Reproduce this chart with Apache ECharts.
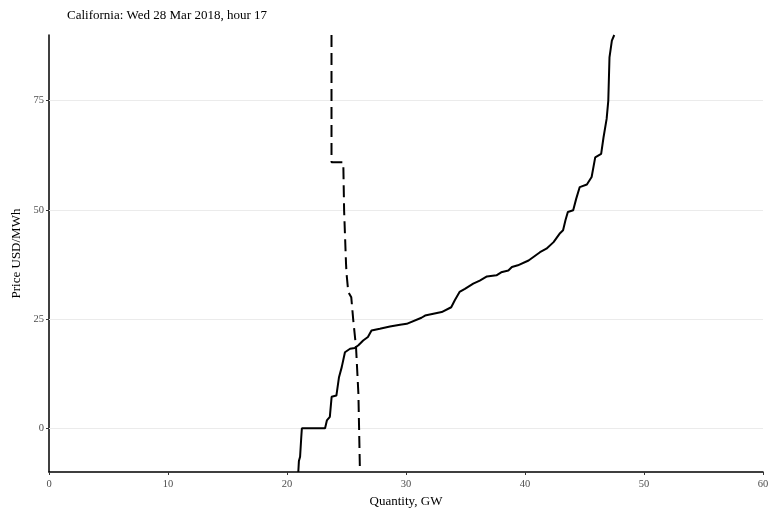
<!DOCTYPE html>
<html>
<head>
<meta charset="utf-8">
<script src="https://cdn.jsdelivr.net/npm/echarts@6/dist/echarts.min.js"></script>
<style>html,body{margin:0;padding:0;background:#fff}#c{width:770px;height:516px}</style>
</head>
<body>
<div id="c"></div>
<script>
// Supply curve (quantity GW, price USD/MWh) - solid step line
const supplyQ = [20.95, 21.0, 21.1, 21.2, 21.25, 23.2, 23.35, 23.6, 23.75, 24.15, 24.37, 24.6, 24.87, 25.3, 25.7, 26.0, 26.4, 26.8, 27.1, 27.8, 28.65, 29.5, 30.06, 31.3, 31.6, 33.0, 33.8, 34.1, 34.5, 34.95, 35.65, 36.2, 36.8, 37.6, 38.0, 38.6, 38.9, 39.4, 40.3, 41.26, 41.8, 42.4, 42.9, 43.2, 43.4, 43.6, 44.05, 44.3, 44.6, 45.2, 45.6, 45.9, 46.4, 46.6, 46.86, 47.0, 47.1, 47.3, 47.5];
const supplyP = [-10, -7.5, -6.5, -2, 0, 0, 1.8, 2.6, 7.2, 7.5, 11.7, 14, 17.4, 18.2, 18.4, 19, 20.1, 20.9, 22.4, 22.8, 23.3, 23.7, 23.9, 25.3, 25.8, 26.6, 27.7, 29.3, 31.2, 31.9, 33.1, 33.8, 34.75, 35, 35.7, 36.1, 36.9, 37.3, 38.4, 40.3, 41.1, 42.6, 44.5, 45.3, 47.6, 49.5, 49.9, 52.5, 55.2, 55.8, 57.5, 62.0, 62.8, 66.6, 70.8, 75, 84.9, 88.7, 90];
// Demand curve - dashed line
const demandQ = [23.74, 23.74, 24.73, 24.8, 24.96, 25.0, 25.15, 25.4, 25.57, 25.8, 26.0, 26.13];
const demandP = [90, 60.9, 60.9, 49.8, 37.7, 35.5, 31.2, 30.0, 24.7, 18.6, 7.9, -10];
const xTicks = [0, 10, 20, 30, 40, 50, 60];
const yTicks = [0, 25, 50, 75];

const serif = '"Liberation Serif", "DejaVu Serif", serif';
const chart = echarts.init(document.getElementById('c'), null, {renderer: 'canvas'});
chart.setOption({
  animation: false,
  backgroundColor: '#ffffff',
  title: {
    text: 'California: Wed 28 Mar 2018, hour 17',
    left: 62, top: 4,
    textStyle: {fontFamily: serif, fontSize: 13, fontWeight: 'normal', color: '#000'}
  },
  grid: {left: 49, right: 7, top: 35, bottom: 44, containLabel: false, outerBoundsMode: 'none'},
  xAxis: {
    type: 'value', min: 0, max: 60, interval: 10,
    name: 'Quantity, GW', nameLocation: 'middle', nameGap: 23,
    nameTextStyle: {fontFamily: serif, fontSize: 13, color: '#000'},
    axisLine: {show: true, onZero: false, lineStyle: {color: '#000', width: 1.5}},
    axisTick: {show: true, length: 3, lineStyle: {color: '#333'}},
    axisLabel: {fontFamily: serif, fontSize: 10.5, color: '#4d4d4d', margin: 7},
    splitLine: {show: false}
  },
  yAxis: {
    type: 'value', min: -10, max: 90,
    name: 'Price USD/MWh', nameLocation: 'middle', nameGap: 25,
    nameTextStyle: {fontFamily: serif, fontSize: 13, color: '#000'},
    axisLine: {show: true, onZero: false, lineStyle: {color: '#000', width: 1.5}},
    axisTick: {show: true, length: 3, customValues: yTicks, lineStyle: {color: '#333'}},
    axisLabel: {fontFamily: serif, fontSize: 10.5, color: '#4d4d4d', margin: 5, customValues: yTicks},
    splitLine: {show: false}
  },
  series: [
    {
      type: 'line', name: 'supply',
      data: supplyQ.map((q, i) => [q, supplyP[i]]),
      showSymbol: false, symbol: 'none',
      lineStyle: {color: '#000', width: 2},
      z: 3,
      markLine: {
        silent: true, symbol: ['none', 'none'], label: {show: false},
        lineStyle: {color: '#ebebeb', type: 'solid', width: 1},
        data: yTicks.map(v => ({yAxis: v})),
        z: 1
      }
    },
    {
      type: 'line', name: 'demand',
      data: demandQ.map((q, i) => [q, demandP[i]]),
      showSymbol: false, symbol: 'none',
      lineStyle: {color: '#000', width: 2, type: [12, 6]},
      z: 3
    }
  ]
});
</script>
</body>
</html>
